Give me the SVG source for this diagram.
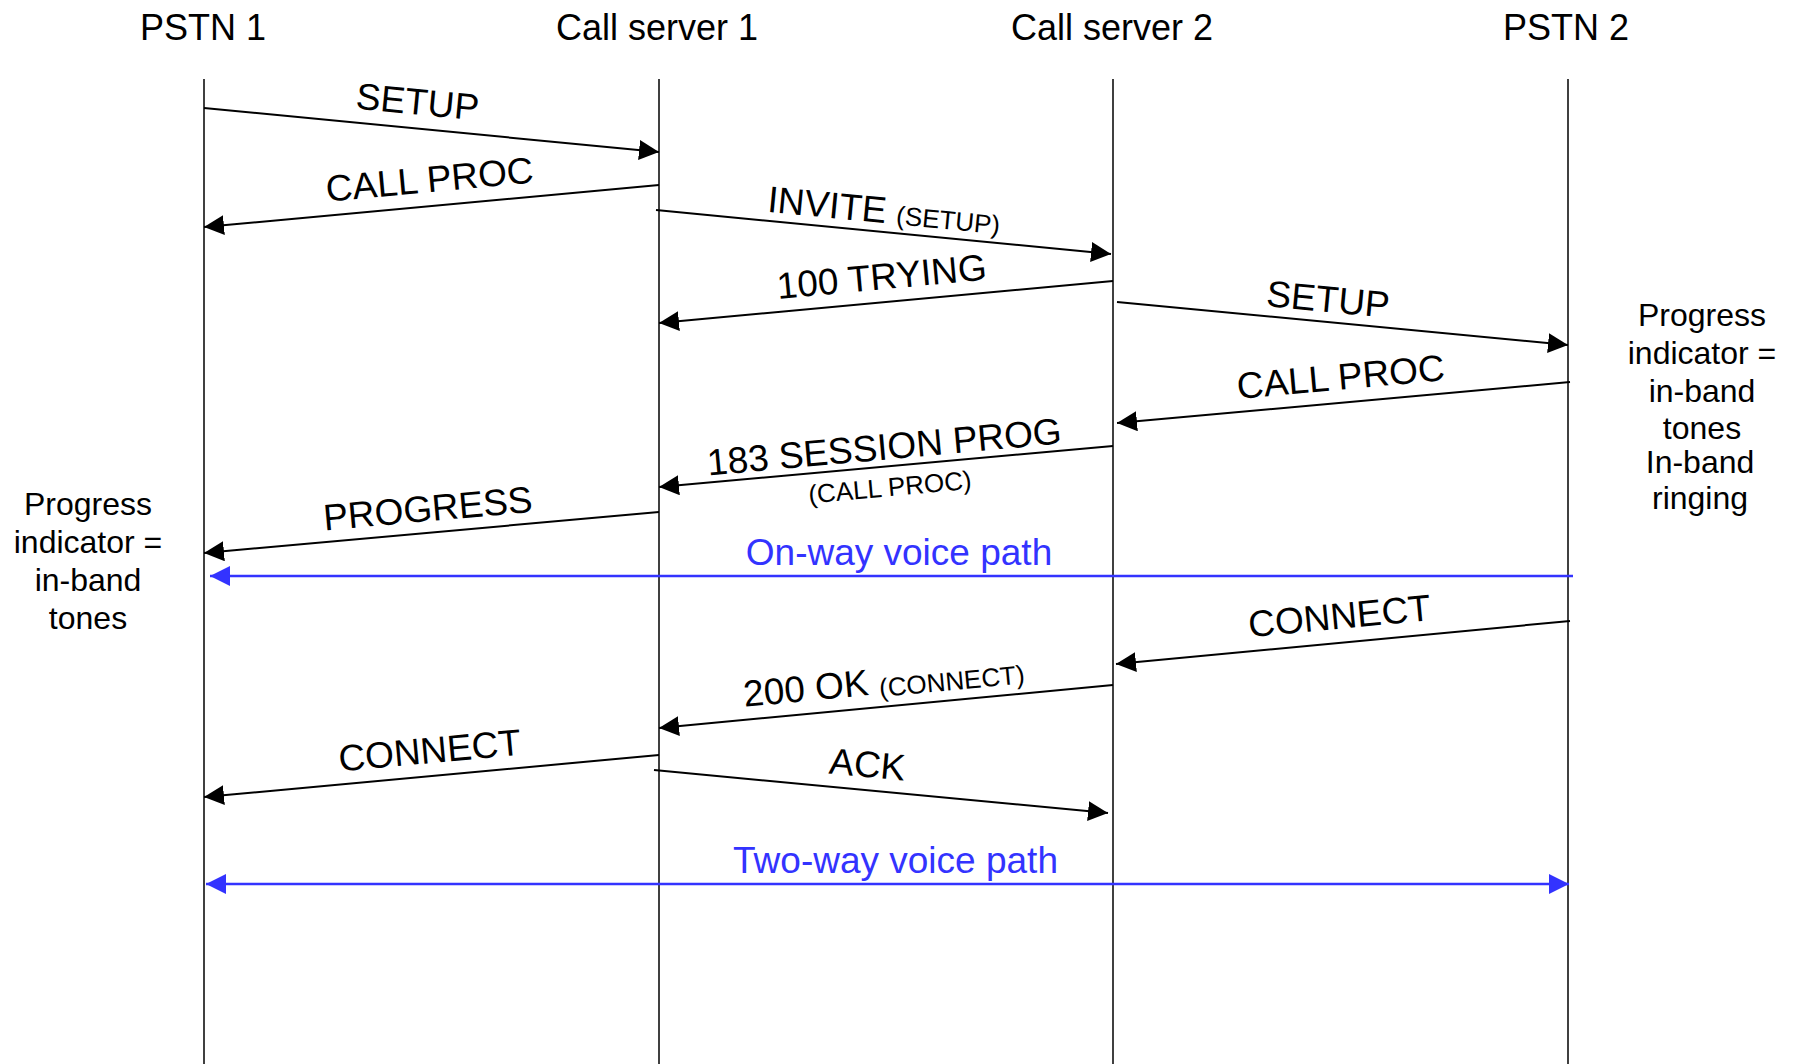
<svg xmlns="http://www.w3.org/2000/svg" width="1797" height="1064" viewBox="0 0 1797 1064">
<style>
text{font-family:"Liberation Sans",Arial,Helvetica,sans-serif;fill:#000}
.hdr{font-size:36px;text-anchor:middle}
.lbl{font-size:37px;text-anchor:middle}
.sm{font-size:26px}
.note{font-size:32px;text-anchor:middle}
.blue{fill:#3333ff}
.life{stroke:#000;stroke-width:1.5;fill:none}
.msg{stroke:#000;stroke-width:2;fill:none;marker-end:url(#ah)}
.vp{stroke:#3333ff;stroke-width:2.5;fill:none}
</style>
<defs>
<marker id="ah" viewBox="0 0 20 20" refX="20" refY="10" markerWidth="20" markerHeight="20" markerUnits="userSpaceOnUse" orient="auto"><path d="M0,0 L20,10 L0,20 z" fill="#000"/></marker>
<marker id="bh" viewBox="0 0 20 20" refX="20" refY="10" markerWidth="20" markerHeight="20" markerUnits="userSpaceOnUse" orient="auto-start-reverse"><path d="M0,0 L20,10 L0,20 z" fill="#3333ff"/></marker>
</defs>
<rect width="1797" height="1064" fill="#fff"/>

<g id="pstn1">
<text class="hdr" x="203" y="40">PSTN 1</text>
<line class="life" x1="204" y1="79" x2="204" y2="1064"/>
</g>
<g id="cs1">
<text class="hdr" x="657" y="40">Call server 1</text>
<line class="life" x1="659" y1="79" x2="659" y2="1064"/>
</g>
<g id="cs2">
<text class="hdr" x="1112" y="40">Call server 2</text>
<line class="life" x1="1113" y1="79" x2="1113" y2="1064"/>
</g>
<g id="pstn2">
<text class="hdr" x="1566" y="40">PSTN 2</text>
<line class="life" x1="1568" y1="79" x2="1568" y2="1064"/>
</g>

<g id="note-right">
<text class="note" x="1702" y="326">Progress</text>
<text class="note" x="1702" y="363.5">indicator =</text>
<text class="note" x="1702" y="401.5">in-band</text>
<text class="note" x="1702" y="438.5">tones</text>
<text class="note" x="1700" y="473">In-band</text>
<text class="note" x="1700" y="508.5">ringing</text>
</g>
<g id="note-left">
<text class="note" x="88" y="515">Progress</text>
<text class="note" x="88" y="553">indicator =</text>
<text class="note" x="88" y="591">in-band</text>
<text class="note" x="88" y="629">tones</text>
</g>

<g id="connectors">
<line class="msg" x1="204" y1="108" x2="659" y2="152"/>
<line class="msg" x1="659" y1="185" x2="204" y2="227"/>
<line class="msg" x1="656" y1="210" x2="1111" y2="254"/>
<line class="msg" x1="1113" y1="281" x2="659" y2="323"/>
<line class="msg" x1="1117" y1="302" x2="1568" y2="345"/>
<line class="msg" x1="1570" y1="382" x2="1117" y2="423"/>
<line class="msg" x1="1113" y1="446" x2="659" y2="487"/>
<line class="msg" x1="659" y1="512" x2="204" y2="553"/>
<line class="vp" x1="1573" y1="576" x2="210" y2="576" marker-end="url(#bh)"/>
<line class="msg" x1="1570" y1="621" x2="1116" y2="664"/>
<line class="msg" x1="1113" y1="685" x2="659" y2="728"/>
<line class="msg" x1="659" y1="755" x2="204" y2="797"/>
<line class="msg" x1="654" y1="770" x2="1108" y2="813"/>
<line class="vp" x1="206" y1="884" x2="1569" y2="884" marker-start="url(#bh)" marker-end="url(#bh)"/>
</g>

<g id="labels">
<text class="lbl" transform="translate(415,128.4) rotate(5.52)" y="-14">SETUP</text>
<text class="lbl" transform="translate(432,206) rotate(-5.27)" y="-14">CALL PROC</text>
<text class="lbl" transform="translate(882,231.9) rotate(5.52)" y="-9">INVITE <tspan class="sm">(SETUP)</tspan></text>
<text class="lbl" transform="translate(884,302.2) rotate(-5.29)" y="-13">100 TRYING</text>
<text class="lbl" transform="translate(1326,321.9) rotate(5.45)" y="-10">SETUP</text>
<text class="lbl" transform="translate(1343,402.5) rotate(-5.17)" y="-13">CALL PROC</text>
<text class="lbl" transform="translate(886,466.5) rotate(-5.16)" y="-7">183 SESSION PROG</text>
<text class="lbl sm" transform="translate(886,466.5) rotate(-5.16)" x="2" y="30">(CALL PROC)</text>
<text class="lbl" transform="translate(430,532.6) rotate(-5.15)" y="-11.5">PROGRESS</text>
<text class="lbl blue" x="899" y="565">On-way voice path</text>
<text class="lbl" transform="translate(1342,642.6) rotate(-5.41)" y="-14">CONNECT</text>
<text class="lbl" transform="translate(886,706.5) rotate(-5.41)" y="-13">200 OK <tspan class="sm" dy="3">(CONNECT)</tspan></text>
<text class="lbl" transform="translate(432,776) rotate(-5.27)" y="-13">CONNECT</text>
<text class="lbl" transform="translate(865,790) rotate(5.41)" y="-13">ACK</text>
<text class="lbl blue" x="895.5" y="873">Two-way voice path</text>
</g>
</svg>
